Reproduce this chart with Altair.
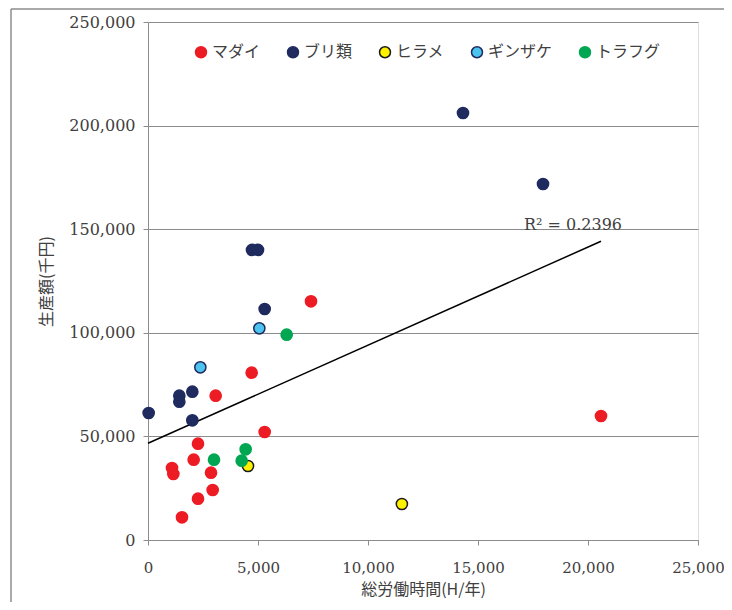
import altair as alt
import pandas as pd

# ---- data ----
species_order = ["マダイ", "ブリ類", "ヒラメ", "ギンザケ", "トラフグ"]
fill_colors = ["#ED1C24", "#1F2A5E", "#FFF200", "#4DC4F0", "#00A651"]
stroke_colors = ["#ED1C24", "#1F2A5E", "#1A1A1A", "#1F2A5E", "#00A651"]

madai_x = [7409, 4712, 3076, 5303, 2273, 2076, 1091, 1152, 2864, 2939, 2273, 1545, 20591]
madai_y = [115200, 80750, 69650, 52120, 46480, 38760, 34750, 31850, 32480, 24130, 19930, 10950, 59850]

buri_x = [4727, 5000, 5303, 2015, 1424, 1424, 30, 2015, 14318, 17955]
buri_y = [140000, 140000, 111490, 71570, 69650, 66750, 61300, 57770, 206080, 171810]

hirame_x = [4545, 11540]
hirame_y = [35710, 17370]

ginzake_x = [5061, 2379]
ginzake_y = [102170, 83350]

torafugu_x = [6303, 4439, 3000, 4258]
torafugu_y = [99100, 43770, 38760, 38280]

r2_label = "R² = 0.2396"
r2_x = 17090
r2_y = 152000

x_ticks = [0, 5000, 10000, 15000, 20000, 25000]
y_ticks = [0, 50000, 100000, 150000, 200000, 250000]

rows = []
for name, xs, ys in [
    ("マダイ", madai_x, madai_y),
    ("ブリ類", buri_x, buri_y),
    ("ヒラメ", hirame_x, hirame_y),
    ("ギンザケ", ginzake_x, ginzake_y),
    ("トラフグ", torafugu_x, torafugu_y),
]:
    for a, b in zip(xs, ys):
        rows.append({"species": name, "hours": a, "value": b})
df = pd.DataFrame(rows)

JP = "Noto Sans CJK JP"
NUM = "DejaVu Serif"
TXT = "#404040"
GRID = "#8C8C8C"

x_enc = alt.X(
    "hours:Q",
    scale=alt.Scale(domain=[0, 25000], nice=False),
    axis=alt.Axis(
        title="総労働時間(H/年)", values=x_ticks, format=",d", grid=False,
        labelFont=NUM, labelFontSize=15, labelColor=TXT, labelPadding=15,
        labelFlush=False, labelOverlap=False,
        titleFont=JP, titleFontSize=16, titleColor=TXT, titleFontWeight="normal",
        titlePadding=6, domainColor=GRID, tickColor=GRID, tickSize=5,
    ),
)
y_enc = alt.Y(
    "value:Q",
    scale=alt.Scale(domain=[0, 250000], nice=False),
    axis=alt.Axis(
        title="生産額(千円)", values=y_ticks, format=",d", grid=True, gridColor=GRID,
        labelFont=NUM, labelFontSize=16, labelColor=TXT, labelPadding=8,
        labelFlush=False, labelOverlap=False,
        titleFont=JP, titleFontSize=16, titleColor=TXT, titleFontWeight="normal",
        titlePadding=14, domainColor=GRID, tickColor=GRID, tickSize=5,
    ),
)

legend = alt.Legend(
    title=None, orient="none", direction="horizontal", legendX=45, legendY=22,
    labelFont=JP, labelFontSize=16, labelColor=TXT, labelOffset=3,
    columnPadding=23, symbolSize=120, symbolStrokeWidth=1.5, padding=0,
)

points = alt.Chart(df).mark_point(filled=True, size=125, opacity=1, strokeWidth=1.5).encode(
    x=x_enc,
    y=y_enc,
    fill=alt.Fill("species:N", scale=alt.Scale(domain=species_order, range=fill_colors), legend=legend, sort=species_order),
    stroke=alt.Stroke("species:N", scale=alt.Scale(domain=species_order, range=stroke_colors), legend=legend, sort=species_order),
)

trend = alt.Chart(df).transform_regression(
    "hours", "value", extent=[0, max(madai_x)]
).mark_line(color="black", strokeWidth=1.5).encode(x="hours:Q", y="value:Q")

r2 = alt.Chart(pd.DataFrame({"x": [r2_x], "y": [r2_y], "t": [r2_label]})).mark_text(
    align="left", baseline="middle", font=NUM, fontSize=16, color=TXT
).encode(x="x:Q", y="y:Q", text="t:N")

frame_v = alt.Chart(pd.DataFrame({"a": [0]})).mark_rule(color="#8C8C8C", strokeWidth=1.5, clip=False).encode(
    x=alt.value(-137), y=alt.value(-13), y2=alt.value(590)
)
frame_h = alt.Chart(pd.DataFrame({"a": [0]})).mark_rule(color="#8C8C8C", strokeWidth=1.5, clip=False).encode(
    x=alt.value(-137), x2=alt.value(576), y=alt.value(-13)
)

chart = alt.layer(trend, points, r2, frame_v, frame_h).properties(
    width=550, height=518,
    padding={"left": 140, "top": 14, "right": 26, "bottom": 62},
    autosize="none",
).configure_view(stroke=None).configure(background="white")

chart.save("out.html", embed_options={"renderer": "svg", "actions": False})
